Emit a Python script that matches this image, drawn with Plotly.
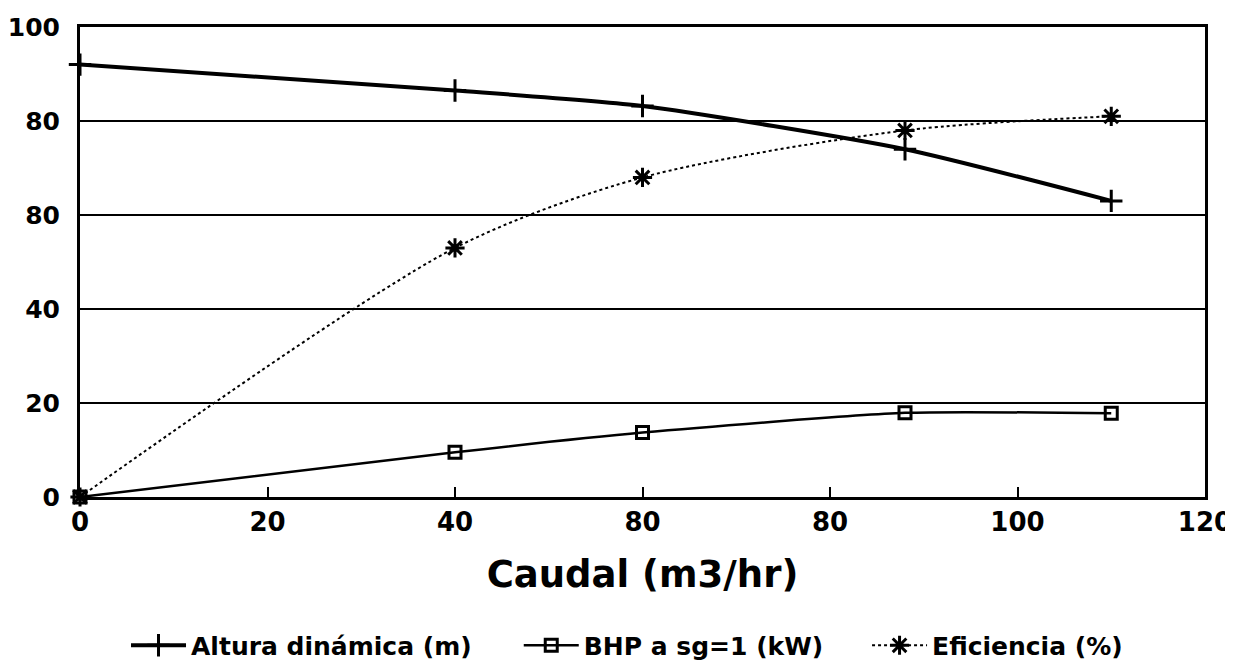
import plotly.graph_objects as go

caudal = [0, 40, 60, 88, 110]
altura = [92, 86.5, 83.2, 74, 63]
bhp = [0, 9.5, 13.7, 17.9, 17.8]
eficiencia = [0, 53, 68, 78, 81]

x_tick_vals = [0, 20, 40, 60, 80, 100, 120]
x_tick_text = ["0", "20", "40", "80", "80", "100", "120"]
y_tick_vals = [0, 20, 40, 60, 80, 100]
y_tick_text = ["0", "20", "40", "80", "80", "100"]

FONT = "DejaVu Sans"
LEG_Y = -0.316

fig = go.Figure()
fig.add_trace(go.Scatter(
    x=caudal, y=altura, name="Altura dinámica (m)", mode="lines+markers",
    line=dict(color="black", width=4, shape="spline", smoothing=0.6),
    marker=dict(symbol="cross-thin-open", size=16, line=dict(color="black", width=3)),
    cliponaxis=False, legend="legend"))
fig.add_trace(go.Scatter(
    x=caudal, y=bhp, name="BHP a sg=1 (kW)", mode="lines+markers",
    line=dict(color="black", width=2.5, shape="spline", smoothing=0.6),
    marker=dict(symbol="square-open", size=12, color="black", line=dict(color="black", width=3)),
    cliponaxis=False, legend="legend2"))
fig.add_trace(go.Scatter(
    x=caudal, y=eficiencia, name="Eficiencia (%)", mode="lines+markers",
    line=dict(color="black", width=2, dash="dot", shape="spline", smoothing=0.8),
    marker=dict(symbol="asterisk-open", size=16, line=dict(color="black", width=3)),
    cliponaxis=False, legend="legend3"))

def leg(x):
    return dict(orientation="h", x=x, xanchor="left", y=LEG_Y, yanchor="middle",
                font=dict(family=FONT, size=25, weight="bold"), itemwidth=55,
                bgcolor="rgba(0,0,0,0)")

fig.update_layout(
    width=1233, height=660,
    margin=dict(l=72, r=36, t=19, b=171, autoexpand=False),
    paper_bgcolor="white", plot_bgcolor="white",
    font=dict(family=FONT, color="black", size=17, weight="bold"),
    showlegend=True,
    legend=leg(0.0409),
    legend2=leg(0.390),
    legend3=leg(0.6996),
    xaxis=dict(range=[0, 120], tickvals=x_tick_vals, ticktext=x_tick_text,
               automargin=False, ticklabeloverflow="allow",
               showgrid=False, zeroline=False, showline=True, linecolor="black",
               linewidth=3, mirror=True, ticks="inside", ticklen=10, tickwidth=2,
               tickcolor="black",
               tickfont=dict(family=FONT, size=26, weight="bold"),
               title=dict(text="Caudal (m3/hr)", standoff=25,
                          font=dict(family=FONT, size=37, weight="bold"))),
    yaxis=dict(range=[0, 100], tickvals=y_tick_vals, ticktext=y_tick_text,
               automargin=False, ticklabeloverflow="allow",
               showgrid=True, gridcolor="black", gridwidth=1.5,
               zeroline=False, showline=True, linecolor="black", linewidth=3,
               mirror=True, ticks="", ticklabelstandoff=12,
               tickfont=dict(family=FONT, size=25, weight="bold")),
)

fig.write_html("out.html")
